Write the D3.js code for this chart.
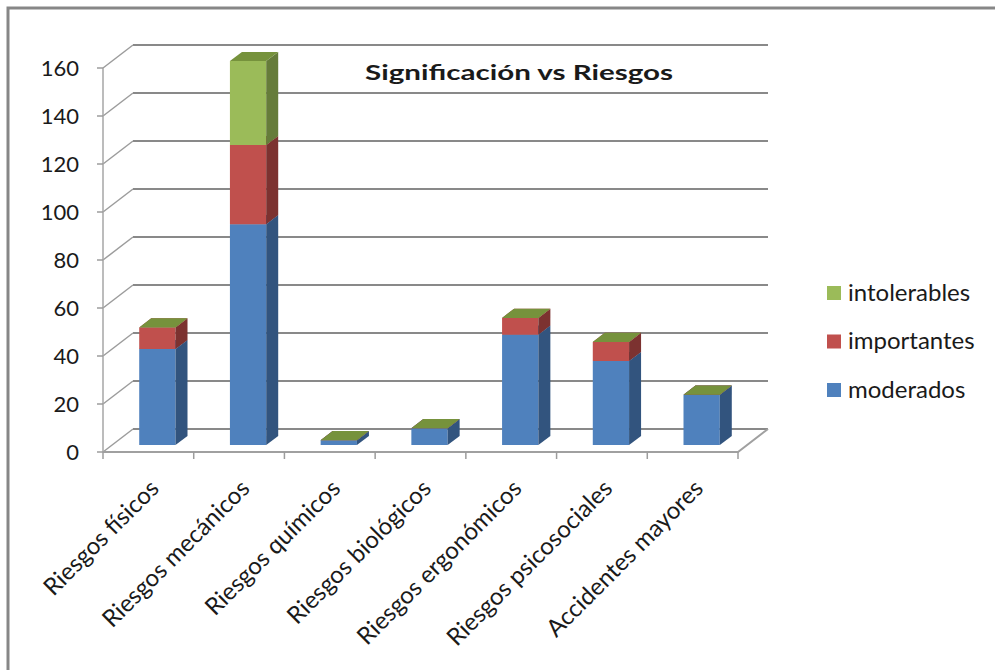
<!DOCTYPE html>
<html>
<head>
<meta charset="utf-8">
<script src="https://cdn.jsdelivr.net/npm/d3@7"></script>
<style>
  body { margin: 0; background: #fff; }
  text { font-family: Lato, "Open Sans", sans-serif; fill: #1a1a1a; }
</style>
</head>
<body>
<div class="box"></div>
<script>
// data
var categories = ["Riesgos físicos", "Riesgos mecánicos", "Riesgos químicos", "Riesgos biológicos",
                  "Riesgos ergonómicos", "Riesgos psicosociales", "Accidentes mayores"];
var moderados    = [40, 92, 2, 7, 46, 35, 21];
var importantes  = [9, 33, 0, 0, 7, 8, 0];
var intolerables = [0, 35, 0, 0, 0, 0, 0];
var seriesNames = ["moderados", "importantes", "intolerables"];
var yTicks = [0, 20, 40, 60, 80, 100, 120, 140, 160];
var title = "Significación vs Riesgos";

width = 995;
height = 670;

// 3d look: the back wall is shifted by this much from the front plane
var depth = { dx: 30, dy: -23 };
var barZ = [0.3, 0.7];

var colors = {
    moderados:    { front: "#4f81bd", side: "#32547e", top: "#3f6a9c" },
    importantes:  { front: "#c0504d", side: "#7c3230", top: "#9e413e" },
    intolerables: { front: "#9bbb59", side: "#667c3a", top: "#76923c" }
};

var seriesValues = { moderados: moderados, importantes: importantes, intolerables: intolerables };

var x = d3.scaleBand(categories, [103, 738]);
var y = d3.scaleLinear().domain([0, 160]).range([452, 68]);

function proj(px, py, z) {
    return [px + depth.dx * z, py + depth.dy * z];
}

const svg = d3.create("svg")
    .attr("width", width)
    .attr("height", height)
    .attr("viewBox", [0, 0, width, height]);

svg.append("rect").attr("width", width).attr("height", height).attr("fill", "#fff");

// chart border (only left and top show)
svg.append("path")
    .attr("d", "M8,670 L8,8 L995,8")
    .attr("fill", "none")
    .attr("stroke", "#878787")
    .attr("stroke-width", 3);

// walls and gridlines
const grid = svg.append("g").attr("fill", "none");

grid.selectAll("line.back")
    .data(yTicks)
    .join("line")
    .attr("class", "back")
    .attr("x1", d => proj(x.range()[0], y(d), 1)[0])
    .attr("y1", d => proj(x.range()[0], y(d), 1)[1])
    .attr("x2", d => proj(x.range()[1], y(d), 1)[0])
    .attr("y2", d => proj(x.range()[1], y(d), 1)[1])
    .attr("stroke", "#898989")
    .attr("stroke-width", 2);

grid.selectAll("line.side")
    .data(yTicks)
    .join("line")
    .attr("class", "side")
    .attr("x1", x.range()[0])
    .attr("y1", d => y(d))
    .attr("x2", d => proj(x.range()[0], y(d), 1)[0])
    .attr("y2", d => proj(x.range()[0], y(d), 1)[1])
    .attr("stroke", "#9c9c9c")
    .attr("stroke-width", 1.5);

// front value axis
grid.append("line")
    .attr("x1", x.range()[0]).attr("x2", x.range()[0])
    .attr("y1", y(0)).attr("y2", y(160))
    .attr("stroke", "#a6a6a6").attr("stroke-width", 1.5);

grid.selectAll("line.ytick")
    .data(yTicks)
    .join("line")
    .attr("class", "ytick")
    .attr("x1", x.range()[0] - 6).attr("x2", x.range()[0])
    .attr("y1", d => y(d)).attr("y2", d => y(d))
    .attr("stroke", "#9c9c9c").attr("stroke-width", 1.5);

// floor front edge + right edge
var fr = proj(x.range()[1], y(0), 1);
grid.append("path")
    .attr("d", `M${x.range()[0]},${y(0)} L${x.range()[1]},${y(0)} L${fr[0]},${fr[1]}`)
    .attr("stroke", "#a0a0a0").attr("stroke-width", 2);

var boundaries = categories.map(c => x(c)).concat([x.range()[1]]);
grid.selectAll("line.xtick")
    .data(boundaries)
    .join("line")
    .attr("class", "xtick")
    .attr("x1", d => d).attr("x2", d => d)
    .attr("y1", y(0)).attr("y2", y(0) + 7)
    .attr("stroke", "#9c9c9c").attr("stroke-width", 1.5);

// y tick labels
svg.append("g")
    .selectAll("text")
    .data(yTicks)
    .join("text")
    .attr("x", 79)
    .attr("y", d => y(d))
    .attr("dy", "0.35em")
    .attr("text-anchor", "end")
    .attr("font-size", 22)
    .text(d => d);

// stacked 3d bars
var stacked = categories.map(function (c, i) {
    var base = 0;
    return seriesNames.map(function (s) {
        var v = seriesValues[s][i];
        var seg = { cat: c, series: s, v0: base, v1: base + v };
        base += v;
        return seg;
    });
});

function poly(points) {
    return "M" + points.map(p => p.join(",")).join("L") + "Z";
}

const bars = svg.append("g");
stacked.forEach(function (segs) {
    segs.forEach(function (d) {
        var cx = x(d.cat) + x.bandwidth() / 2;
        var half = x.bandwidth() * 0.2;
        var l = cx - half, r = cx + half;
        var z0 = barZ[0], z1 = barZ[1];
        var g = bars.append("g");
        if (d.v1 > d.v0) {
            g.append("path")
                .attr("d", poly([proj(l, y(d.v0), z0), proj(r, y(d.v0), z0), proj(r, y(d.v1), z0), proj(l, y(d.v1), z0)]))
                .attr("fill", colors[d.series].front);
            g.append("path")
                .attr("d", poly([proj(r, y(d.v0), z0), proj(r, y(d.v0), z1), proj(r, y(d.v1), z1), proj(r, y(d.v1), z0)]))
                .attr("fill", colors[d.series].side);
        }
        g.append("path")
            .attr("d", poly([proj(l, y(d.v1), z0), proj(r, y(d.v1), z0), proj(r, y(d.v1), z1), proj(l, y(d.v1), z1)]))
            .attr("fill", colors[d.series].top);
    });
});

// category labels
svg.append("g")
    .selectAll("text")
    .data(categories)
    .join("text")
    .attr("text-anchor", "end")
    .attr("font-size", 24)
    .attr("transform", d => `translate(${x(d) + x.bandwidth() / 2 + 12},490) rotate(-45)`)
    .text(d => d);

// title
svg.append("text")
    .attr("x", 519)
    .attr("y", 80)
    .attr("text-anchor", "middle")
    .attr("font-size", 21)
    .attr("font-weight", "bold")
    .attr("textLength", 308)
    .attr("lengthAdjust", "spacingAndGlyphs")
    .text(title);

// legend, top entry is the last series
const legend = svg.append("g")
    .selectAll("g")
    .data(seriesNames.slice().reverse())
    .join("g")
    .attr("transform", (d, i) => `translate(827,${286 + i * 48.5})`);

legend.append("rect")
    .attr("width", 14).attr("height", 14)
    .attr("fill", d => colors[d].front);

legend.append("text")
    .attr("x", 21)
    .attr("y", 14.5)
    .attr("font-size", 24)
    .text(d => d);

document.querySelector(".box").appendChild(svg.node());
</script>
</body>
</html>
